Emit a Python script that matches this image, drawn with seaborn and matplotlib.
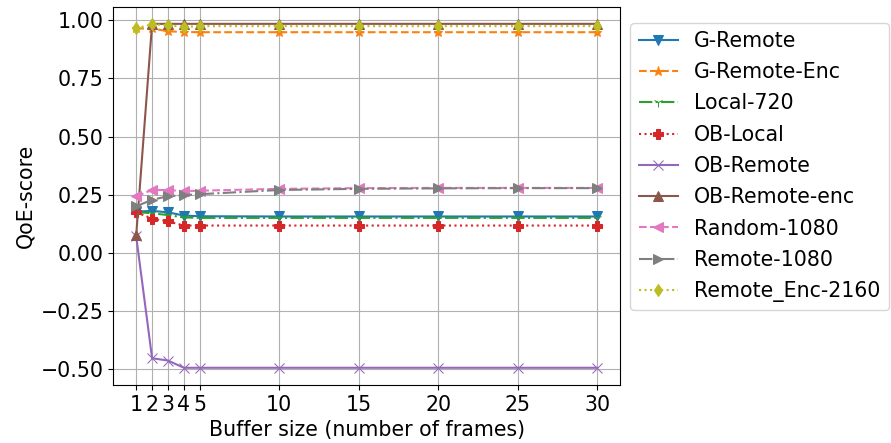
import numpy as np
import pandas as pd
import matplotlib
matplotlib.use('Agg')
import matplotlib.pyplot as plt
import seaborn as sns

# buffer sizes on the x axis
buffer_sizes = [1, 2, 3, 4, 5, 10, 15, 20, 25, 30]

# QoE scores
g_remote = [0.177, 0.180, 0.174, 0.160, 0.157, 0.156, 0.156, 0.156, 0.156, 0.156]
g_remote_enc = [0.965, 0.965, 0.953, 0.950, 0.949, 0.949, 0.949, 0.949, 0.949, 0.949]
local_720 = [0.175, 0.170, 0.162, 0.152, 0.150, 0.150, 0.150, 0.150, 0.150, 0.150]
ob_local = [0.174, 0.147, 0.135, 0.117, 0.117, 0.117, 0.117, 0.117, 0.117, 0.117]
ob_remote = [0.070, -0.454, -0.464, -0.495, -0.495, -0.495, -0.495, -0.495, -0.495, -0.495]
ob_remote_enc = [0.075, 0.985, 0.985, 0.985, 0.985, 0.985, 0.985, 0.985, 0.985, 0.985]
random_1080 = [0.243, 0.270, 0.270, 0.265, 0.267, 0.275, 0.278, 0.279, 0.279, 0.279]
remote_1080 = [0.200, 0.228, 0.243, 0.248, 0.252, 0.270, 0.275, 0.277, 0.278, 0.278]
remote_enc_2160 = [0.966, 0.983, 0.979, 0.972, 0.975, 0.975, 0.975, 0.975, 0.975, 0.975]

labels = ['G-Remote', 'G-Remote-Enc', 'Local-720', 'OB-Local', 'OB-Remote',
          'OB-Remote-enc', 'Random-1080', 'Remote-1080', 'Remote_Enc-2160']
series = [g_remote, g_remote_enc, local_720, ob_local, ob_remote,
          ob_remote_enc, random_1080, remote_1080, remote_enc_2160]
markers = ['v', '*', '1', 'P', 'x', '^', '<', '>', 'd']
linestyles = ['-', '--', '-.', ':', '-', '-', '--', '-.', ':']

plt.rcParams['font.size'] = 14.8
colors = sns.color_palette('tab10', len(labels))

fig, ax = plt.subplots(figsize=(8.91, 4.43), dpi=100)
for lab, vals, mk, ls, col in zip(labels, series, markers, linestyles, colors):
    df = pd.DataFrame({'buffer': buffer_sizes, 'qoe': vals})
    sns.lineplot(data=df, x='buffer', y='qoe', marker=mk, linestyle=ls,
                 color=col, label=lab, ax=ax, markersize=6.5,
                 markeredgecolor=col)

ax.set_xticks(buffer_sizes)
ax.set_yticks(np.arange(-0.5, 1.01, 0.25))
ax.set_xlabel('Buffer size (number of frames)')
ax.set_ylabel('QoE-score')
ax.grid(True)
ax.legend(loc='upper left', bbox_to_anchor=(1.0, 0.985), labelspacing=0.55,
          handlelength=1.9)
plt.subplots_adjust(left=0.127, right=0.696, top=0.985, bottom=0.131)
plt.savefig('out.png')
